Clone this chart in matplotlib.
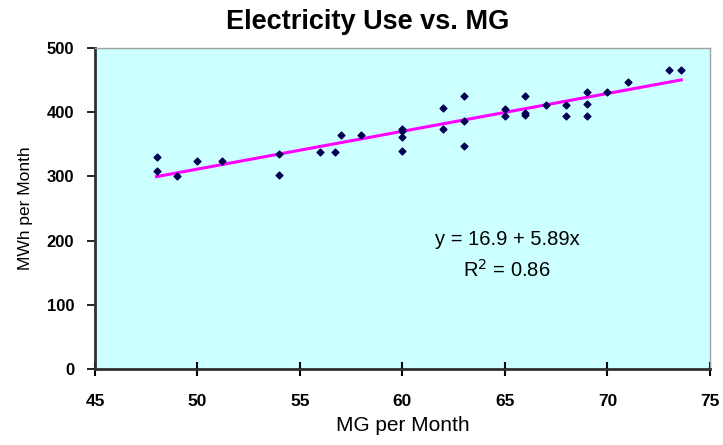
import matplotlib
matplotlib.use("Agg")
import matplotlib.pyplot as plt

plt.rcParams['font.family'] = ['Liberation Sans', 'DejaVu Sans']

mg = [48, 48, 49, 50, 51.2, 54, 54, 56, 56.7, 57, 58,
      60, 60, 60, 60, 62, 62, 63, 63, 63, 65, 65, 66, 66, 66,
      67, 68, 68, 69, 69, 69, 70, 71, 73, 73.6]
mwh = [330, 308, 301, 324, 324, 335, 302, 338, 338, 365, 364,
       374, 362, 339, 370, 406, 374, 426, 386, 347, 405, 394, 426, 399, 396,
       412, 412, 394, 431, 413, 394, 431, 447, 466, 466]

intercept = 16.9
slope = 5.89
r2 = 0.86

fig = plt.figure(figsize=(7.23, 4.45), dpi=100)
ax = fig.add_axes([0.1314, 0.171, 0.8506, 0.721])
ax.set_facecolor('#CCFFFF')

ax.scatter(mg, mwh, marker='D', s=12, color='#000050', zorder=3)
xs = [min(mg), max(mg)]
ax.plot(xs, [intercept + slope * x for x in xs], color='#FF00FF', lw=2.2, zorder=2)

ax.set_xlim(45, 75)
ax.set_ylim(0, 500)
ax.set_xticks(range(45, 76, 5))
ax.set_yticks(range(0, 501, 100))

for side in ['top', 'right']:
    ax.spines[side].set_color('#A0A0A0')
    ax.spines[side].set_linewidth(1.0)
for side in ['left', 'bottom']:
    ax.spines[side].set_color('#303030')
    ax.spines[side].set_linewidth(2.0)

ax.tick_params(axis='x', direction='inout', length=10, width=1.5, labelsize=12.5, pad=13)
ax.tick_params(axis='y', direction='out', length=6, width=1.2, labelsize=12, pad=9)
for lab in ax.get_xticklabels() + ax.get_yticklabels():
    lab.set_fontweight('bold')

ax.set_xlabel('MG per Month', fontsize=15, labelpad=5)
ax.set_ylabel('MWh per Month', fontsize=12.5, labelpad=10)
fig.text(0.508, 0.951, 'Electricity Use vs. MG', fontsize=19.5, fontweight='bold',
         ha='center', va='center')

ax.text(65.1, 201, f'y = {intercept} + {slope}x', fontsize=14.5, ha='center', va='center')
ax.text(65.1, 154, f'R$^2$ = {r2}', fontsize=14.5, ha='center', va='center')

fig.savefig('out.png', dpi=100)
